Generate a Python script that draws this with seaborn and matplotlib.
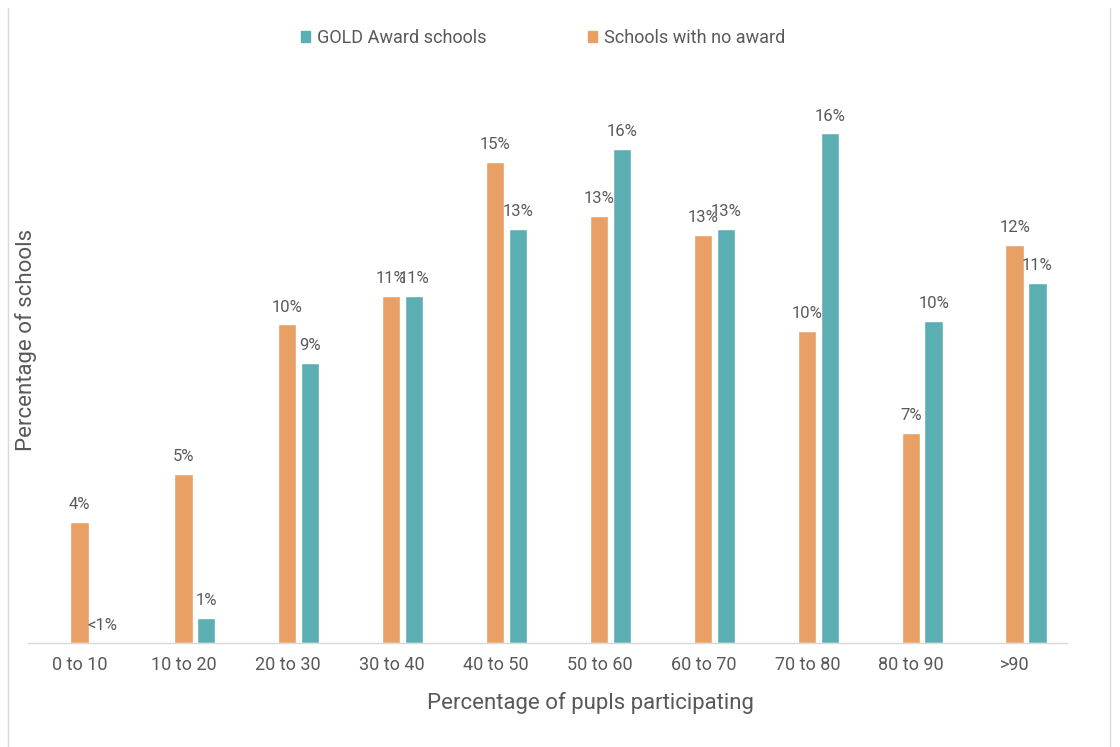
import matplotlib
matplotlib.use("Agg")
import matplotlib.pyplot as plt
import seaborn as sns
import pandas as pd
import numpy as np
from matplotlib.lines import Line2D

categories = ["0 to 10", "10 to 20", "20 to 30", "30 to 40", "40 to 50",
              "50 to 60", "60 to 70", "70 to 80", "80 to 90", ">90"]
no_award = [3.8, 5.3, 10.0, 10.9, 15.1, 13.4, 12.8, 9.8, 6.6, 12.5]
gold = [0.0, 0.8, 8.8, 10.9, 13.0, 15.5, 13.0, 16.0, 10.1, 11.3]
no_award_labels = ["4%", "5%", "10%", "11%", "15%", "13%", "13%", "10%", "7%", "12%"]
gold_labels = ["<1%", "1%", "9%", "11%", "13%", "16%", "13%", "16%", "10%", "11%"]
series_names = ["Schools with no award", "GOLD Award schools"]

df = pd.concat([
    pd.DataFrame({"cat": categories, "val": no_award, "series": series_names[0]}),
    pd.DataFrame({"cat": categories, "val": gold, "series": series_names[1]}),
])

sns.set_theme(style="white")
plt.rcParams["font.family"] = ["Roboto", "DejaVu Sans"]

c_orange = "#E8A065"
c_teal = "#5BAEB1"
text_c = "#595959"

W, H = 1120, 747
ax_l, ax_r, ax_t, ax_b = 28, 1067, 95, 643
fig = plt.figure(figsize=(W / 100, H / 100), dpi=100)
ax = fig.add_axes([ax_l / W, 1 - ax_b / H, (ax_r - ax_l) / W, (ax_b - ax_t) / H])

sns.barplot(data=df, x="cat", y="val", hue="series", order=categories,
            hue_order=series_names, palette=[c_orange, c_teal],
            width=0.44, gap=0.2, ax=ax, legend=False, saturation=1)

shift = 11 / ((ax_r - ax_l) / 10)
ax.set_xlim(-0.5 - shift, 9.5 - shift)
ax.set_xticks(np.arange(len(categories)) - shift)
ax.set_xticklabels(categories)
ax.set_ylim(0, 17.2)
ax.set_yticks([])
for s in ["top", "right", "left"]:
    ax.spines[s].set_visible(False)
ax.spines["bottom"].set_color("#d9d9d9")
ax.spines["bottom"].set_linewidth(1)

for cont, labels in zip(ax.containers, [no_award_labels, gold_labels]):
    ax.bar_label(cont, labels=labels, padding=7, fontsize=12, color=text_c)

ax.tick_params(axis="x", length=0, pad=9, labelsize=13, labelcolor=text_c)
ax.set_xlabel("Percentage of pupls participating", fontsize=16, color=text_c)
ax.xaxis.set_label_coords((590 - ax_l) / (ax_r - ax_l), -(692 - ax_b) / (ax_b - ax_t))
ax.set_ylabel("Percentage of schools", fontsize=16, color=text_c)
ax.yaxis.set_label_coords(9 / (ax_r - ax_l), (ax_b - 340) / (ax_b - ax_t))

handles = [plt.Rectangle((0, 0), 1, 1, color=c_teal), plt.Rectangle((0, 0), 1, 1, color=c_orange)]
leg = fig.legend(handles, ["GOLD Award schools", "Schools with no award"],
                 loc="center", bbox_to_anchor=(543 / W, 1 - 38 / H), ncol=2,
                 frameon=False, fontsize=13, labelcolor=text_c, handlelength=0.5,
                 handleheight=0.6, handletextpad=0.4, columnspacing=5.6)

fig.add_artist(Line2D([8 / W, 8 / W], [0, 1 - 8 / H], transform=fig.transFigure,
                      color="#d9d9d9", lw=1))
fig.add_artist(Line2D([1110 / W, 1110 / W], [0, 1 - 8 / H], transform=fig.transFigure,
                      color="#d9d9d9", lw=1))

fig.savefig("out.png", dpi=100, facecolor="white")
